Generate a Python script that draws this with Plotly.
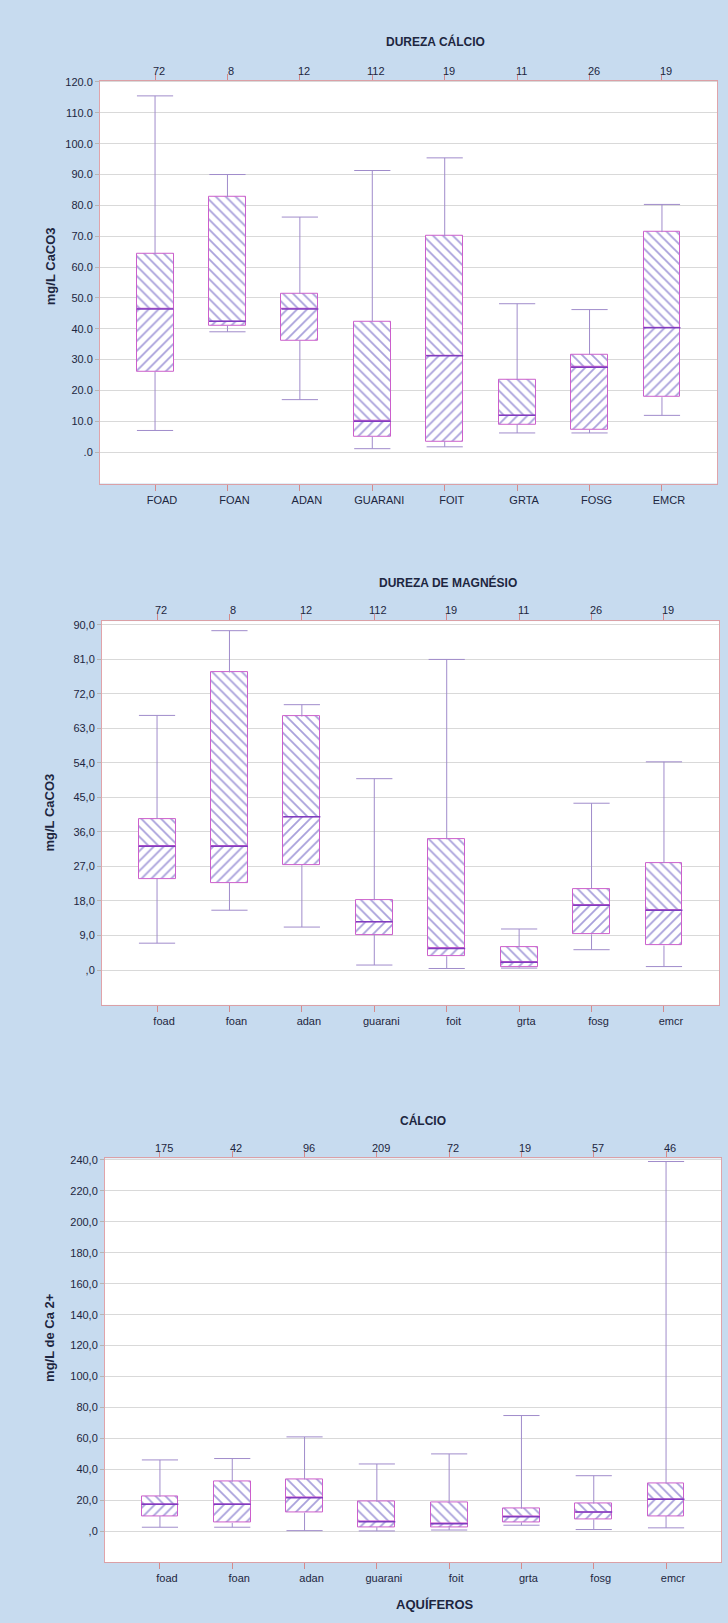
import plotly.graph_objects as go
import numpy as np

W, H = 728, 1623

# ---- categories and sample counts ----
cats_upper = ["FOAD", "FOAN", "ADAN", "GUARANI", "FOIT", "GRTA", "FOSG", "EMCR"]
cats_lower = ["foad", "foan", "adan", "guarani", "foit", "grta", "fosg", "emcr"]
n_dureza = ["72", "8", "12", "112", "19", "11", "26", "19"]
n_calcio = ["175", "42", "96", "209", "72", "19", "57", "46"]

# ---- Dureza cálcio (mg/L CaCO3) ----
dc_low = [7.0, 39.0, 17.0, 1.1, 1.7, 6.2, 6.2, 11.9]
dc_q1 = [26.0, 41.0, 36.2, 5.0, 3.4, 9.0, 7.3, 17.8]
dc_med = [46.4, 42.4, 46.4, 10.0, 31.2, 11.9, 27.5, 40.3]
dc_q3 = [64.3, 82.7, 51.3, 42.4, 70.0, 23.5, 31.6, 71.3]
dc_high = [115.5, 90.0, 76.2, 91.3, 95.4, 48.1, 46.2, 80.3]

# ---- Dureza de magnésio (mg/L CaCO3) ----
dm_low = [7.0, 15.6, 11.2, 1.3, 0.4, 0.5, 5.3, 0.9]
dm_q1 = [23.8, 22.7, 27.4, 9.2, 3.6, 0.7, 9.3, 6.4]
dm_med = [32.3, 32.3, 40.0, 12.6, 5.6, 2.0, 16.9, 15.6]
dm_q3 = [39.4, 77.6, 66.1, 18.2, 34.1, 5.9, 21.2, 27.9]
dm_high = [66.4, 88.5, 69.2, 49.9, 81.0, 10.7, 43.5, 54.3]

# ---- Cálcio (mg/L de Ca 2+) ----
ca_low = [2.6, 2.6, 0.4, 0.2, 0.8, 3.9, 1.1, 2.2]
ca_q1 = [9.8, 5.4, 12.0, 2.6, 2.6, 5.7, 7.6, 9.8]
ca_med = [17.4, 17.4, 21.7, 6.1, 4.8, 9.3, 12.4, 20.7]
ca_q3 = [22.2, 32.0, 33.5, 19.0, 18.7, 14.6, 17.8, 30.9]
ca_high = [46.1, 47.0, 61.0, 43.5, 50.0, 74.8, 35.9, 239.0]

# ---- tick labels ----
dc_ticks = [0, 10, 20, 30, 40, 50, 60, 70, 80, 90, 100, 110, 120]
dc_ticktext = [".0", "10.0", "20.0", "30.0", "40.0", "50.0", "60.0", "70.0",
               "80.0", "90.0", "100.0", "110.0", "120.0"]
dm_ticks = [0, 9, 18, 27, 36, 45, 54, 63, 72, 81, 90]
dm_ticktext = [",0", "9,0", "18,0", "27,0", "36,0", "45,0", "54,0", "63,0",
               "72,0", "81,0", "90,0"]
ca_ticks = [0, 20, 40, 60, 80, 100, 120, 140, 160, 180, 200, 220, 240]
ca_ticktext = [",0", "20,0", "40,0", "60,0", "80,0", "100,0", "120,0", "140,0",
               "160,0", "180,0", "200,0", "220,0", "240,0"]

# ---- styling ----
BG = "#c7dbef"
TXT = "#1d2640"
HATCH = "#5242b8"
EDGE = "#cc5fcc"
MEDIAN = "#7f3cc0"
WHISK = "#a08ccb"
GRID = "#d9d9d9"
FONT = "Liberation Sans"
BOXW = 0.51
CAPW = 0.50


def px_x(p):
    return p / W


def px_y(p):
    return 1 - p / H


panels = [
    dict(low=dc_low, q1=dc_q1, med=dc_med, q3=dc_q3, high=dc_high,
         cats=cats_upper, counts=n_dureza, ticks=dc_ticks, ticktext=dc_ticktext,
         yrange=[-10.2, 120.4], xdom=[100, 717], ydom=[76, 480],
         title="DUREZA CÁLCIO", title_xy=(435, 37), count_y=66,
         ytitle="mg/L CaCO3", ytitle_y=262),
    dict(low=dm_low, q1=dm_q1, med=dm_med, q3=dm_q3, high=dm_high,
         cats=cats_lower, counts=n_dureza, ticks=dm_ticks, ticktext=dm_ticktext,
         yrange=[-9.1, 91.0], xdom=[102, 719], ydom=[618, 1003],
         title="DUREZA DE MAGNÉSIO", title_xy=(448, 579), count_y=607,
         ytitle="mg/L CaCO3", ytitle_y=810),
    dict(low=ca_low, q1=ca_q1, med=ca_med, q3=ca_q3, high=ca_high,
         cats=cats_lower, counts=n_calcio, ticks=ca_ticks, ticktext=ca_ticktext,
         yrange=[-20.0, 241.0], xdom=[105, 721], ydom=[1157, 1562],
         title="CÁLCIO", title_xy=(423, 1119), count_y=1147,
         ytitle="mg/L de Ca 2+", ytitle_y=1337),
]

fig = go.Figure()
annotations = []

for k, p in enumerate(panels):
    xa = "x" if k == 0 else f"x{k + 1}"
    ya = "y" if k == 0 else f"y{k + 1}"
    pos = np.arange(len(p["cats"]), dtype=float)
    q1 = np.array(p["q1"]); med = np.array(p["med"]); q3 = np.array(p["q3"])
    lo = np.array(p["low"]); hi = np.array(p["high"])

    # whiskers: vertical stems and end caps
    wx, wy = [], []
    for i in range(len(pos)):
        wx += [pos[i], pos[i], None, pos[i], pos[i], None]
        wy += [q3[i], hi[i], None, q1[i], lo[i], None]
        wx += [pos[i] - CAPW / 2, pos[i] + CAPW / 2, None,
               pos[i] - CAPW / 2, pos[i] + CAPW / 2, None]
        wy += [hi[i], hi[i], None, lo[i], lo[i], None]
    fig.add_trace(go.Scatter(x=wx, y=wy, mode="lines", xaxis=xa, yaxis=ya,
                             line=dict(color=WHISK, width=1),
                             hoverinfo="skip", showlegend=False))

    # lower half of the box (Q1 → median), forward hatching
    fig.add_trace(go.Bar(x=pos, y=med - q1, base=q1, width=BOXW,
                         xaxis=xa, yaxis=ya, showlegend=False,
                         marker=dict(color="white",
                                     line=dict(color=EDGE, width=1),
                                     pattern=dict(shape="/", fgcolor=HATCH,
                                                  bgcolor="white", size=7,
                                                  solidity=0.26))))
    # upper half of the box (median → Q3), backward hatching
    fig.add_trace(go.Bar(x=pos, y=q3 - med, base=med, width=BOXW,
                         xaxis=xa, yaxis=ya, showlegend=False,
                         marker=dict(color="white",
                                     line=dict(color=EDGE, width=1),
                                     pattern=dict(shape="\\", fgcolor=HATCH,
                                                  bgcolor="white", size=7,
                                                  solidity=0.26))))

    # median lines
    mx, my = [], []
    for i in range(len(pos)):
        mx += [pos[i] - BOXW / 2, pos[i] + BOXW / 2, None]
        my += [med[i], med[i], None]
    fig.add_trace(go.Scatter(x=mx, y=my, mode="lines", xaxis=xa, yaxis=ya,
                             line=dict(color=MEDIAN, width=1.5),
                             hoverinfo="skip", showlegend=False))

    xkey = "xaxis" if k == 0 else f"xaxis{k + 1}"
    ykey = "yaxis" if k == 0 else f"yaxis{k + 1}"
    fig.layout[xkey] = dict(
        domain=[px_x(p["xdom"][0]), px_x(p["xdom"][1])],
        anchor=ya, range=[-0.76, len(pos) - 0.24],
        tickmode="array", tickvals=list(pos), ticktext=p["cats"],
        ticks="outside", ticklen=6, tickcolor="#d58a8a", tickwidth=1,
        ticklabelshift=7,
        showline=True, linecolor="#dba0a6", linewidth=1, mirror="ticks",
        showgrid=False, zeroline=False,
        tickfont=dict(family=FONT, size=11, color=TXT))
    fig.layout[ykey] = dict(
        domain=[px_y(p["ydom"][1]), px_y(p["ydom"][0])],
        anchor=xa, range=p["yrange"],
        tickmode="array", tickvals=p["ticks"], ticktext=p["ticktext"],
        ticks="outside", ticklen=4, tickcolor="#b5b5b5",
        showline=True, linecolor="#e0a4aa", linewidth=1, mirror=True,
        showgrid=True, gridcolor=GRID, gridwidth=1, zeroline=False,
        tickfont=dict(family=FONT, size=11, color=TXT))

    # panel title
    annotations.append(dict(text=f"<b>{p['title']}</b>", xref="paper", yref="paper",
                            x=px_x(p["title_xy"][0]), y=px_y(p["title_xy"][1]),
                            showarrow=False, xanchor="center", yanchor="middle",
                            font=dict(family=FONT, size=12, color=TXT)))
    # sample counts above each box
    for i, c in enumerate(p["counts"]):
        annotations.append(dict(text=c, xref=xa, yref="paper",
                                x=pos[i], y=px_y(p["count_y"]), xshift=4,
                                showarrow=False, xanchor="center", yanchor="middle",
                                font=dict(family=FONT, size=11, color=TXT)))
    # y-axis title
    annotations.append(dict(text=f"<b>{p['ytitle']}</b>", xref="paper", yref="paper",
                            x=px_x(50), y=px_y(p["ytitle_y"]), textangle=-90,
                            showarrow=False, xanchor="center", yanchor="middle",
                            font=dict(family=FONT, size=13, color=TXT)))

annotations.append(dict(text="<b>AQUÍFEROS</b>", xref="paper", yref="paper",
                        x=px_x(435), y=px_y(1604), showarrow=False,
                        xanchor="center", yanchor="middle",
                        font=dict(family=FONT, size=13, color=TXT)))

fig.update_layout(
    width=W, height=H, margin=dict(l=0, r=0, t=0, b=0),
    paper_bgcolor=BG, plot_bgcolor="white",
    barmode="overlay", bargap=0, showlegend=False,
    annotations=annotations,
    font=dict(family=FONT, color=TXT),
)

fig.write_html("out.html")
